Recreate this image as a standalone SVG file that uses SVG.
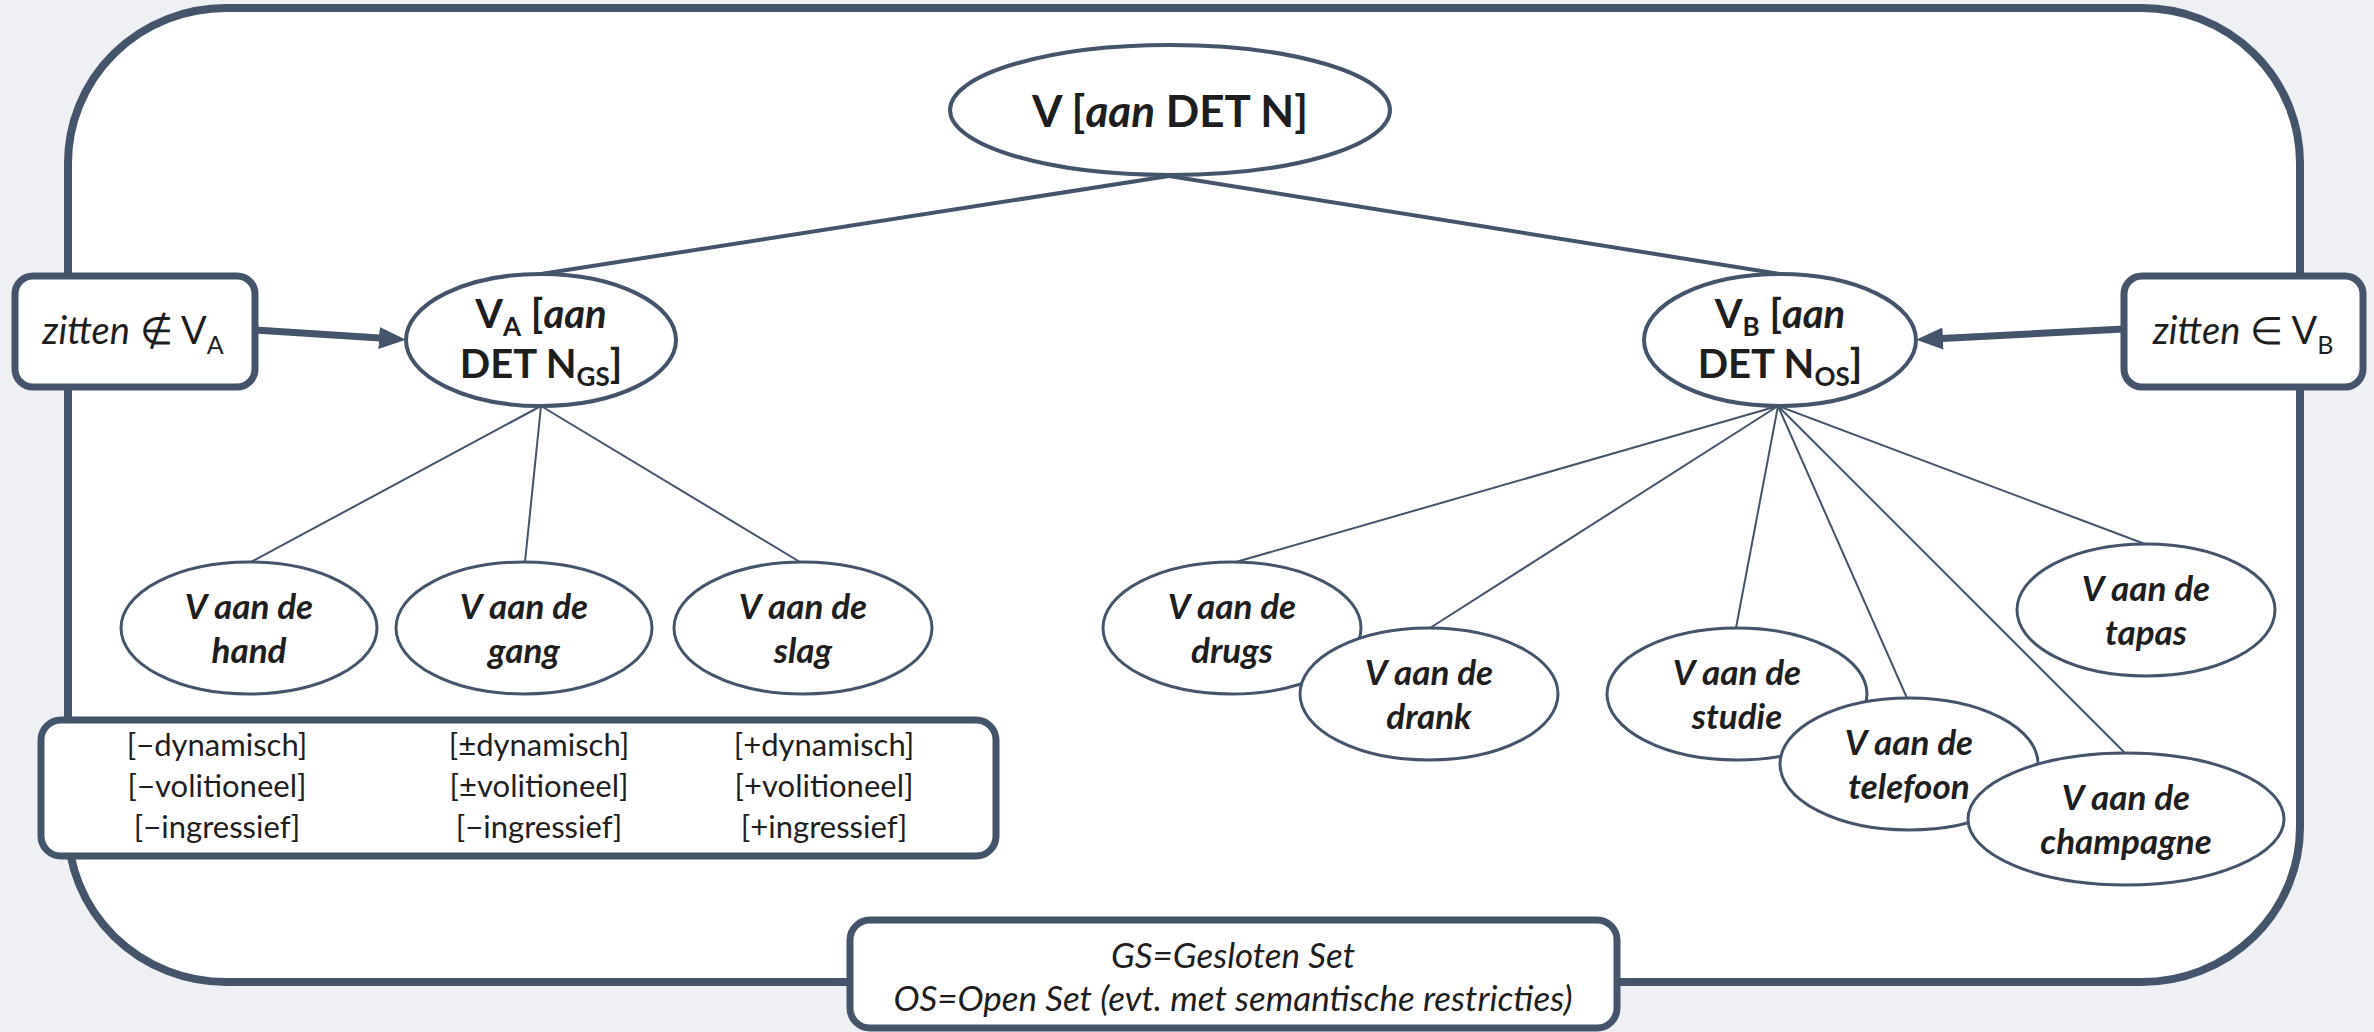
<svg xmlns="http://www.w3.org/2000/svg" width="2374" height="1032" viewBox="0 0 2374 1032">
<style>
.bg{fill:#eef0f4}
.frame{fill:#ffffff;stroke:#44546a;stroke-width:8}
.box{fill:#ffffff;stroke:#44546a;stroke-width:7}
.main{fill:#ffffff;stroke:#44546a;stroke-width:4}
.leaf{fill:#ffffff;stroke:#44546a;stroke-width:3}
.thick{stroke:#44546a;stroke-width:4;fill:none}
.thin{stroke:#44546a;stroke-width:2;fill:none}
.arrow{stroke:#44546a;stroke-width:7;fill:none}
text{font-family:Lato,"Liberation Sans",sans-serif;fill:#1e1e1e;text-anchor:middle}
.hb{font-size:44px;font-weight:bold}
.mb{font-size:40px;font-weight:bold}
.lf{font-size:35px;font-weight:bold;font-style:italic}
.ft{font-size:31px}
.lg{font-size:35px;font-style:italic}
.zt{font-size:38px}
.it{font-style:italic}
</style>
<defs>
<marker id="ah" markerUnits="userSpaceOnUse" markerWidth="28" markerHeight="24" viewBox="0 0 28 24" refX="1" refY="12" orient="auto">
<path d="M0,1 L27,12 L0,23 z" fill="#44546a"/>
</marker>
</defs>
<rect class="bg" x="0" y="0" width="2374" height="1032"/>
<rect class="frame" x="68" y="8" width="2232" height="974" rx="158" ry="155"/>

<g id="connectors">
<line class="thick" x1="1169" y1="176" x2="541" y2="274"/>
<line class="thick" x1="1169" y1="176" x2="1780" y2="274"/>
<line class="thin" x1="541" y1="406" x2="251" y2="562"/>
<line class="thin" x1="541" y1="406" x2="525" y2="562"/>
<line class="thin" x1="541" y1="406" x2="800" y2="562"/>
<line class="thin" x1="1778" y1="406" x2="1236" y2="562"/>
<line class="thin" x1="1778" y1="406" x2="1430" y2="628"/>
<line class="thin" x1="1778" y1="406" x2="1736" y2="628"/>
<line class="thin" x1="1778" y1="406" x2="1907" y2="698"/>
<line class="thin" x1="1778" y1="406" x2="2124" y2="752"/>
<line class="thin" x1="1778" y1="406" x2="2145" y2="544"/>
<line class="arrow" x1="255" y1="330" x2="380" y2="338" marker-end="url(#ah)"/>
<line class="arrow" x1="2124" y1="329" x2="1942" y2="338.5" marker-end="url(#ah)"/>
</g>

<g id="root">
<ellipse class="main" cx="1170" cy="110" rx="220" ry="65"/>
<text class="hb" x="1170" y="127">V [<tspan class="it">aan</tspan> DET N]</text>
</g>

<g id="va">
<ellipse class="main" cx="541" cy="340" rx="135" ry="66"/>
<text class="mb" x="541" y="328">V<tspan font-size="26" dy="8">A</tspan><tspan dy="-8"> [</tspan><tspan class="it">aan</tspan></text>
<text class="mb" x="541" y="378">DET N<tspan font-size="26" dy="8">GS</tspan><tspan dy="-8">]</tspan></text>
</g>

<g id="vb">
<ellipse class="main" cx="1780" cy="340" rx="136" ry="66"/>
<text class="mb" x="1780" y="328">V<tspan font-size="26" dy="8">B</tspan><tspan dy="-8"> [</tspan><tspan class="it">aan</tspan></text>
<text class="mb" x="1780" y="378">DET N<tspan font-size="26" dy="8">OS</tspan><tspan dy="-8">]</tspan></text>
</g>

<g id="zitten-a">
<rect class="box" x="15" y="276" width="240" height="111" rx="18"/>
<text class="zt" x="133" y="344"><tspan class="it">zitten</tspan> ∉ V<tspan font-size="25" dy="10">A</tspan></text>
</g>

<g id="zitten-b">
<rect class="box" x="2124" y="276" width="239" height="111" rx="18"/>
<text class="zt" x="2243" y="344"><tspan class="it">zitten</tspan> ∈ V<tspan font-size="25" dy="10">B</tspan></text>
</g>

<g id="hand">
<ellipse class="leaf" cx="249" cy="628" rx="128" ry="66"/>
<text class="lf" x="249" y="619">V aan de</text>
<text class="lf" x="249" y="663">hand</text>
</g>
<g id="gang">
<ellipse class="leaf" cx="524" cy="628" rx="128" ry="66"/>
<text class="lf" x="524" y="619">V aan de</text>
<text class="lf" x="524" y="663">gang</text>
</g>
<g id="slag">
<ellipse class="leaf" cx="803" cy="628" rx="129" ry="66"/>
<text class="lf" x="803" y="619">V aan de</text>
<text class="lf" x="803" y="663">slag</text>
</g>

<g id="features">
<rect class="box" x="41" y="720" width="955" height="136" rx="20"/>
<text class="ft" x="217" y="756">[−dynamisch]</text>
<text class="ft" x="217" y="797">[−volitioneel]</text>
<text class="ft" x="217" y="838">[−ingressief]</text>
<text class="ft" x="539" y="756">[±dynamisch]</text>
<text class="ft" x="539" y="797">[±volitioneel]</text>
<text class="ft" x="539" y="838">[−ingressief]</text>
<text class="ft" x="824" y="756">[+dynamisch]</text>
<text class="ft" x="824" y="797">[+volitioneel]</text>
<text class="ft" x="824" y="838">[+ingressief]</text>
</g>

<g id="drugs">
<ellipse class="leaf" cx="1232" cy="628" rx="129" ry="66"/>
<text class="lf" x="1232" y="619">V aan de</text>
<text class="lf" x="1232" y="663">drugs</text>
</g>
<g id="drank">
<ellipse class="leaf" cx="1429" cy="694" rx="129" ry="66"/>
<text class="lf" x="1429" y="685">V aan de</text>
<text class="lf" x="1429" y="729">drank</text>
</g>
<g id="studie">
<ellipse class="leaf" cx="1737" cy="694" rx="130" ry="66"/>
<text class="lf" x="1737" y="685">V aan de</text>
<text class="lf" x="1737" y="729">studie</text>
</g>
<g id="telefoon">
<ellipse class="leaf" cx="1909" cy="764" rx="129" ry="66"/>
<text class="lf" x="1909" y="755">V aan de</text>
<text class="lf" x="1909" y="799">telefoon</text>
</g>
<g id="champagne">
<ellipse class="leaf" cx="2126" cy="819" rx="158" ry="66"/>
<text class="lf" x="2126" y="810">V aan de</text>
<text class="lf" x="2126" y="854">champagne</text>
</g>
<g id="tapas">
<ellipse class="leaf" cx="2146" cy="610" rx="129" ry="66"/>
<text class="lf" x="2146" y="601">V aan de</text>
<text class="lf" x="2146" y="645">tapas</text>
</g>

<g id="legend">
<rect class="box" x="850" y="920" width="767" height="108" rx="20"/>
<text class="lg" x="1233" y="968">GS=Gesloten Set</text>
<text class="lg" x="1233" y="1011">OS=Open Set (evt. met semantische restricties)</text>
</g>
</svg>
